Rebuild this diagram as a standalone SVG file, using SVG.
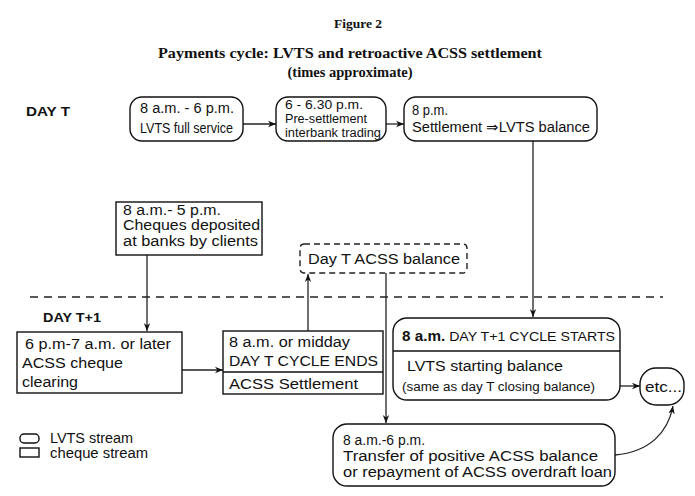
<svg xmlns="http://www.w3.org/2000/svg" width="695" height="496" viewBox="0 0 695 496">
<style>
.t{font-family:"Liberation Sans",Arial,sans-serif;font-size:14px;fill:#111}
.m{font-size:13px}
.n{font-size:12px}
.s{font-size:12px}
.h{font-family:"Liberation Serif","Times New Roman",serif;font-weight:bold;fill:#111;text-anchor:middle}
.b{fill:none;stroke:#111;stroke-width:1.4}
.c{fill:none;stroke:#222;stroke-width:1.3}
.day{font-family:"Liberation Sans",Arial,sans-serif;font-size:13px;font-weight:bold;fill:#111}
</style>
<defs>
<marker id="a" viewBox="0 0 10 10" refX="10" refY="5" markerWidth="8" markerHeight="8" orient="auto" markerUnits="userSpaceOnUse">
<path d="M0,1 L10,5 L0,9 L3,5 Z" fill="#111"/>
</marker>
</defs>
<rect width="695" height="496" fill="#fff"/>
<text class="h" x="358" y="28" font-size="13.5">Figure 2</text>
<text class="h" x="350" y="58" font-size="15.5" textLength="384" lengthAdjust="spacingAndGlyphs">Payments cycle: LVTS and retroactive ACSS settlement</text>
<text class="h" x="350" y="77" font-size="14.5">(times approximate)</text>
<text class="day" x="26" y="116" textLength="44" lengthAdjust="spacingAndGlyphs">DAY T</text>
<text class="day" x="43" y="322" textLength="58" lengthAdjust="spacingAndGlyphs">DAY T+1</text>
<line x1="30" y1="297" x2="663" y2="297" stroke="#222" stroke-width="1.4" stroke-dasharray="8 6"/>

<g id="connectors">
<line class="c" x1="243" y1="124" x2="276" y2="124" marker-end="url(#a)"/>
<line class="c" x1="386" y1="124" x2="404" y2="124" marker-end="url(#a)"/>
<line class="c" x1="533" y1="141" x2="533" y2="317" marker-end="url(#a)"/>
<line class="c" x1="147" y1="255" x2="147" y2="331" marker-end="url(#a)"/>
<line class="c" x1="308" y1="331" x2="308" y2="274" marker-end="url(#a)"/>
<line class="c" x1="386" y1="273" x2="386" y2="423" marker-end="url(#a)"/>
<line class="c" x1="182" y1="370" x2="223" y2="370" marker-end="url(#a)"/>
<line class="c" x1="620" y1="386" x2="640" y2="386" marker-end="url(#a)"/>
<path class="c" d="M615,455 C650,452 668,432 673,406" marker-end="url(#a)"/>
</g>

<g id="lvts-full">
<rect class="b" x="130" y="97" width="113" height="44" rx="12"/>
<text class="t" x="140" y="113" textLength="94" lengthAdjust="spacingAndGlyphs">8 a.m. - 6 p.m.</text>
<text class="t" x="140" y="133" textLength="93" lengthAdjust="spacingAndGlyphs">LVTS full service</text>
</g>
<g id="presettlement">
<rect class="b" x="276" y="97" width="110" height="44" rx="12"/>
<text class="t n" x="285" y="109" textLength="78" lengthAdjust="spacingAndGlyphs">6 - 6.30 p.m.</text>
<text class="t n" x="285" y="123" textLength="82" lengthAdjust="spacingAndGlyphs">Pre-settlement</text>
<text class="t n" x="285" y="137" textLength="96" lengthAdjust="spacingAndGlyphs">interbank trading</text>
</g>
<g id="settlement">
<rect class="b" x="404" y="97" width="193" height="44" rx="12"/>
<text class="t" x="412" y="115" textLength="36" lengthAdjust="spacingAndGlyphs">8 p.m.</text>
<text class="t" x="412" y="132" textLength="178" lengthAdjust="spacingAndGlyphs">Settlement ⇒LVTS balance</text>
</g>
<g id="cheques">
<rect class="b" x="116" y="202" width="146" height="53"/>
<text class="t" x="123" y="215" textLength="98" lengthAdjust="spacingAndGlyphs">8 a.m.- 5 p.m.</text>
<text class="t" x="123" y="230" textLength="137" lengthAdjust="spacingAndGlyphs">Cheques deposited</text>
<text class="t" x="123" y="246" textLength="135" lengthAdjust="spacingAndGlyphs">at banks by clients</text>
</g>
<g id="acss-balance">
<rect x="300" y="244" width="167" height="29" rx="4" fill="none" stroke="#222" stroke-width="1.4" stroke-dasharray="6 4"/>
<text class="t" x="308" y="264" textLength="152" lengthAdjust="spacingAndGlyphs">Day T ACSS balance</text>
</g>
<g id="clearing">
<rect class="b" x="17" y="332" width="165" height="61"/>
<text class="t" x="25" y="349" textLength="146" lengthAdjust="spacingAndGlyphs">6 p.m-7 a.m. or later</text>
<text class="t" x="22" y="368" textLength="101" lengthAdjust="spacingAndGlyphs">ACSS cheque</text>
<text class="t" x="22" y="387" textLength="56" lengthAdjust="spacingAndGlyphs">clearing</text>
</g>
<g id="cycle-ends">
<rect class="b" x="223" y="331" width="160" height="63"/>
<line class="b" x1="223" y1="372" x2="383" y2="372"/>
<text class="t" x="229" y="347" textLength="121" lengthAdjust="spacingAndGlyphs">8 a.m. or midday</text>
<text class="t" x="229" y="366" textLength="149" lengthAdjust="spacingAndGlyphs">DAY T CYCLE ENDS</text>
<text class="t" x="229" y="389" textLength="129" lengthAdjust="spacingAndGlyphs">ACSS Settlement</text>
</g>
<g id="cycle-starts">
<rect class="b" x="393" y="318" width="227" height="82" rx="14"/>
<line class="b" x1="393" y1="351" x2="620" y2="351"/>
<text class="t" x="402" y="341" textLength="213" lengthAdjust="spacingAndGlyphs"><tspan font-weight="bold">8 a.m.</tspan><tspan class="m"> DAY T+1 CYCLE STARTS</tspan></text>
<text class="t" x="407" y="371" textLength="156" lengthAdjust="spacingAndGlyphs">LVTS starting balance</text>
<text class="t s" x="402" y="391" textLength="193" lengthAdjust="spacingAndGlyphs">(same as day T closing balance)</text>
</g>
<g id="etc">
<rect class="b" x="640" y="368" width="44" height="37" rx="16"/>
<text class="t" x="645" y="392" textLength="37" lengthAdjust="spacingAndGlyphs">etc...</text>
</g>
<g id="transfer">
<rect class="b" x="333" y="424" width="282" height="62" rx="14"/>
<text class="t" x="343" y="445" textLength="82" lengthAdjust="spacingAndGlyphs">8 a.m.-6 p.m.</text>
<text class="t" x="343" y="461" textLength="255" lengthAdjust="spacingAndGlyphs">Transfer of positive ACSS balance</text>
<text class="t" x="343" y="477" textLength="269" lengthAdjust="spacingAndGlyphs">or repayment of  ACSS overdraft loan</text>
</g>
<g id="legend">
<rect class="b" x="20" y="434" width="19" height="9" rx="4"/>
<text class="t" x="50" y="443" textLength="83" lengthAdjust="spacingAndGlyphs">LVTS stream</text>
<rect class="b" x="20" y="448" width="19" height="9"/>
<text class="t" x="50" y="458" textLength="98" lengthAdjust="spacingAndGlyphs">cheque stream</text>
</g>
</svg>
